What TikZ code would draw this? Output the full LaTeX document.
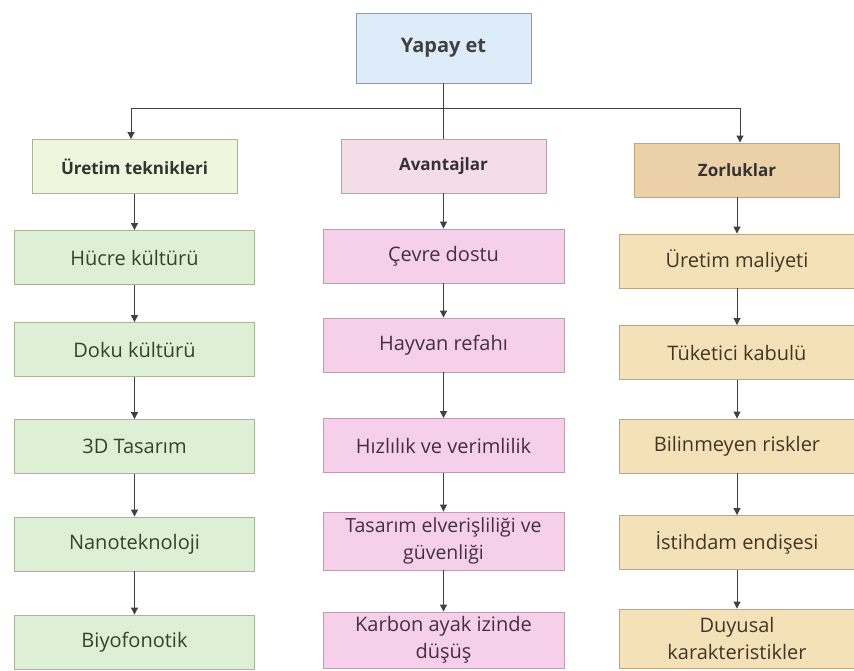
\documentclass[tikz,border=0pt]{standalone}
\usepackage{fontspec}
\setmainfont{Open Sans}
\usetikzlibrary{arrows.meta}
\definecolor{rootfill}{HTML}{DEEBF8}
\definecolor{rootline}{HTML}{8C9CAC}
\definecolor{headA}{HTML}{F0F6DC}
\definecolor{itemA}{HTML}{DDEFD5}
\definecolor{lineA}{HTML}{A2B896}
\definecolor{headB}{HTML}{F5DDE8}
\definecolor{itemB}{HTML}{F6D0EB}
\definecolor{lineB}{HTML}{BF9CB2}
\definecolor{headC}{HTML}{ECD0A8}
\definecolor{itemC}{HTML}{F4E1B7}
\definecolor{lineC}{HTML}{BDA67E}
\definecolor{txtA}{HTML}{34422F}
\definecolor{txtB}{HTML}{44303F}
\definecolor{txtC}{HTML}{443624}
\definecolor{wire}{HTML}{404040}
\begin{document}
\begin{tikzpicture}
  [x=1pt,y=-1pt,
   box/.style={rectangle,draw,line width=0.9pt,inner sep=2pt,align=center},
   rootbox/.style={box,fill=rootfill,draw=rootline,minimum width=175pt,minimum height=70pt,
     font=\fontsize{20}{24}\selectfont\bfseries,text=black!75},
   headbox/.style={box,minimum width=205pt,minimum height=54pt,
     font=\fontsize{17}{20}\selectfont\bfseries,text=black!80},
   itembox/.style={box,minimum height=54pt,font=\fontsize{20}{24}\selectfont},
   arr/.style={draw=wire,line width=1pt,-{Triangle[length=7pt,width=7pt]}}]
  \useasboundingbox (0,0) rectangle (854,670);

  % top
  \node[rootbox] (root) at (443.5,48) {Yapay et};
  \coordinate (j1) at (131,108);
  \coordinate (j3) at (740,108);

  % headers
  \node[headbox,fill=headA,draw=lineA] (h1) at (134.5,166.5) {Üretim teknikleri};
  \node[headbox,fill=headB,draw=lineB] (h2) at (443.5,166) {Avantajlar};
  \node[headbox,fill=headC,draw=lineC] (h3) at (737,170) {Zorluklar};

  % first column
  \node[itembox,fill=itemA,draw=lineA,text=txtA,minimum width=240pt] (a1) at (134.5,257.5) {Hücre kültürü};
  \node[itembox,fill=itemA,draw=lineA,text=txtA,minimum width=240pt] (a2) at (134.5,349.5) {Doku kültürü};
  \node[itembox,fill=itemA,draw=lineA,text=txtA,minimum width=240pt] (a3) at (134.5,446.5) {3D Tasarım};
  \node[itembox,fill=itemA,draw=lineA,text=txtA,minimum width=240pt] (a4) at (134.5,544) {Nanoteknoloji};
  \node[itembox,fill=itemA,draw=lineA,text=txtA,minimum width=240pt] (a5) at (134.5,642) {Biyofonotik};

  % second column
  \node[itembox,fill=itemB,draw=lineB,text=txtB,minimum width=241pt] (b1) at (443.5,256) {Çevre dostu};
  \node[itembox,fill=itemB,draw=lineB,text=txtB,minimum width=241pt] (b2) at (443.5,345) {Hayvan refahı};
  \node[itembox,fill=itemB,draw=lineB,text=txtB,minimum width=241pt] (b3) at (443.5,445.5) {Hızlılık ve verimlilik};
  \node[itembox,fill=itemB,draw=lineB,text=txtB,minimum width=241pt,minimum height=58pt,
    font=\fontsize{19.5}{27}\selectfont] (b4) at (443.5,541) {Tasarım elverişliliği ve\\güvenliği};
  \node[itembox,fill=itemB,draw=lineB,text=txtB,minimum width=241pt,minimum height=56pt,
    font=\fontsize{20}{27}\selectfont] (b5) at (443.5,640) {Karbon ayak izinde\\düşüş};

  % third column
  \node[itembox,fill=itemC,draw=lineC,text=txtC,minimum width=236pt] (c1) at (737,261) {Üretim maliyeti};
  \node[itembox,fill=itemC,draw=lineC,text=txtC,minimum width=236pt] (c2) at (737,352.5) {Tüketici kabulü};
  \node[itembox,fill=itemC,draw=lineC,text=txtC,minimum width=236pt] (c3) at (737,446) {Bilinmeyen riskler};
  \node[itembox,fill=itemC,draw=lineC,text=txtC,minimum width=236pt] (c4) at (737,542.5) {İstihdam endişesi};
  \node[itembox,fill=itemC,draw=lineC,text=txtC,minimum width=236pt,minimum height=59pt,
    font=\fontsize{20}{27}\selectfont] (c5) at (737,638.5) {Duyusal\\karakteristikler};

  % connectors
  \draw[draw=wire,line width=1pt] (j1) -- (j3);
  \draw[draw=wire,line width=1pt] (root) -- (h2);
  \draw[arr] (j1) -- (j1 |- h1.north);
  \draw[arr] (j3) -- (j3 |- h3.north);

  \foreach \from/\to in {h1/a1,a1/a2,a2/a3,a3/a4,a4/a5,
                         h2/b1,b1/b2,b2/b3,b3/b4,b4/b5,
                         h3/c1,c1/c2,c2/c3,c3/c4,c4/c5}
    \draw[arr] (\from.south) -- (\from.south |- \to.north);
\end{tikzpicture}
\end{document}
